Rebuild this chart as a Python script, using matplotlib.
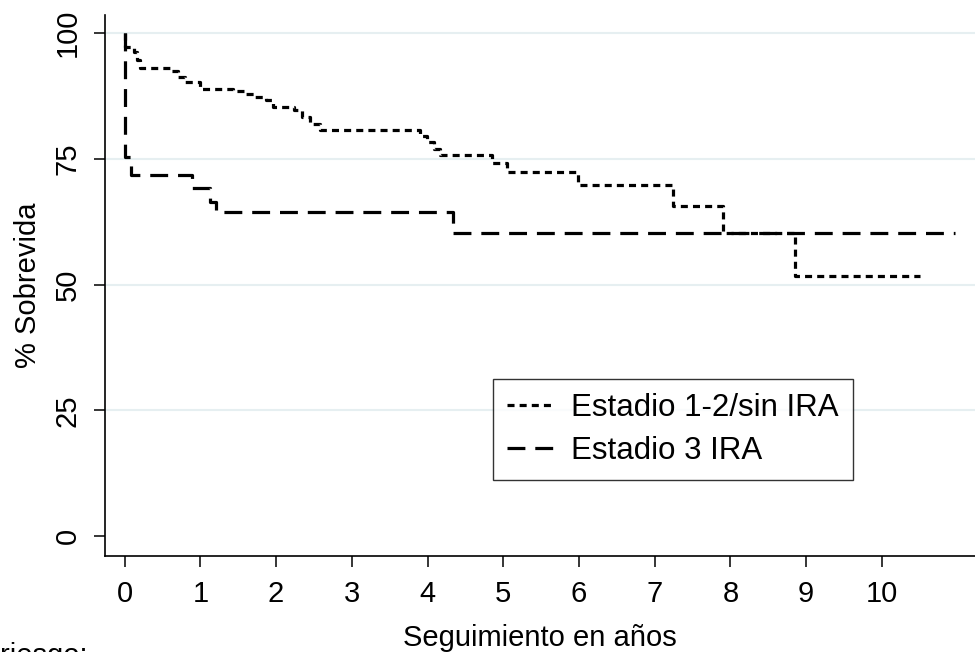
import matplotlib
matplotlib.use("Agg")
import matplotlib.pyplot as plt

# Kaplan-Meier curves
anos_est12 = [0, 0.01, 0.12, 0.16, 0.2, 0.6, 0.71, 0.8, 1.0, 1.43, 1.59, 1.72, 1.86, 1.96,
              2.23, 2.34, 2.45, 2.58, 3.9, 3.99, 4.08, 4.17, 4.85, 5.05, 5.99, 7.24, 7.9,
              8.85, 10.5]
surv_est12 = [100, 97.3, 96.3, 94.6, 93.1, 92.5, 91.3, 90.2, 88.8, 88.4, 87.9, 87.2, 86.7, 85.4,
              84.7, 83.4, 82.0, 80.7, 79.5, 78.4, 76.9, 75.7, 74.1, 72.3, 69.8, 65.6, 60.3,
              51.6, 51.6]

anos_est3 = [0, 0.01, 0.08, 0.89, 1.13, 1.2, 4.34, 10.96]
surv_est3 = [100, 75.4, 71.8, 69.1, 66.5, 64.5, 60.3, 60.3]

xticks = list(range(0, 11))
yticks = [0, 25, 50, 75, 100]
labels = ["Estadio 1-2/sin IRA", "Estadio 3 IRA"]

plt.rcParams["font.family"] = ["Liberation Sans", "DejaVu Sans"]

fig = plt.figure(figsize=(9.75, 6.52), dpi=100)
ax = fig.add_axes([105 / 975, 1 - 556 / 652, 1 - 105 / 975, (556 - 15) / 652])

for y in [25, 50, 75, 100]:
    ax.axhline(y, color="#e6eff1", lw=1.5, zorder=0)

ax.step(anos_est12, surv_est12, where="post", color="black", lw=2.3,
        linestyle=(0, (2.2, 1.6)), label=labels[0])
ax.step(anos_est3, surv_est3, where="post", color="black", lw=2.3,
        linestyle=(0, (5.6, 3.1)), label=labels[1])

ax.set_xlim(-0.26, 11.23)
ax.set_ylim(-3.98, 103.6)
ax.set_xticks(xticks)
ax.set_yticks(yticks)
ax.tick_params(axis="both", direction="out", length=8, width=1.1, labelsize=21)
ax.tick_params(axis="x", pad=9)
ax.tick_params(axis="y", pad=9)
plt.setp(ax.get_yticklabels(), rotation=90, va="center")

for s in ["top", "right"]:
    ax.spines[s].set_visible(False)
for s in ["left", "bottom"]:
    ax.spines[s].set_linewidth(1.2)

ax.set_ylabel("% Sobrevida", fontsize=21, labelpad=8)
ax.set_xlabel("Seguimiento en años", fontsize=21, labelpad=12)

leg = ax.legend(loc="upper left", bbox_to_anchor=(493 / 975, 1 - 379 / 652),
                bbox_transform=fig.transFigure, fontsize=22.5, frameon=True,
                fancybox=False, edgecolor="black", handlelength=1.5,
                handletextpad=0.55, borderpad=0.45, labelspacing=0.4,
                borderaxespad=0)
leg.get_frame().set_linewidth(1.0)

fig.text(0.0, -0.018, "riesgo:", fontsize=21, ha="left", va="baseline")

fig.savefig("out.png", dpi=100)
